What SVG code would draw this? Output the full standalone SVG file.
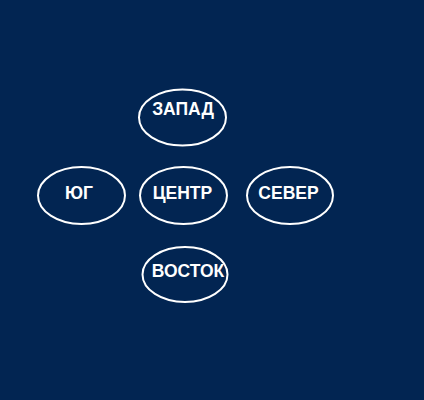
<svg xmlns="http://www.w3.org/2000/svg" width="424" height="400" viewBox="0 0 424 400">
<style>
.n ellipse{fill:none;stroke:#ffffff;stroke-width:2}
.n text{fill:#ffffff;font-family:"Liberation Sans",Arial,sans-serif;font-weight:bold;font-size:17.5px;text-anchor:middle}
</style>
<rect width="424" height="400" fill="#022552"/>
<g id="connectors"></g>
<g id="zapad" class="n"><ellipse cx="182.5" cy="117.5" rx="43.5" ry="28"/><text x="183" y="115">ЗАПАД</text></g>
<g id="yug" class="n"><ellipse cx="81.5" cy="195.5" rx="43.5" ry="28.5"/><text x="79" y="198.5">ЮГ</text></g>
<g id="centr" class="n"><ellipse cx="183.5" cy="195.5" rx="43.5" ry="28.5"/><text x="182.5" y="198.5">ЦЕНТР</text></g>
<g id="sever" class="n"><ellipse cx="290" cy="195.5" rx="43" ry="28.5"/><text x="288.5" y="198.5">СЕВЕР</text></g>
<g id="vostok" class="n"><ellipse cx="185" cy="274.5" rx="42.5" ry="27.5"/><text x="188" y="277">ВОСТОК</text></g>
</svg>
